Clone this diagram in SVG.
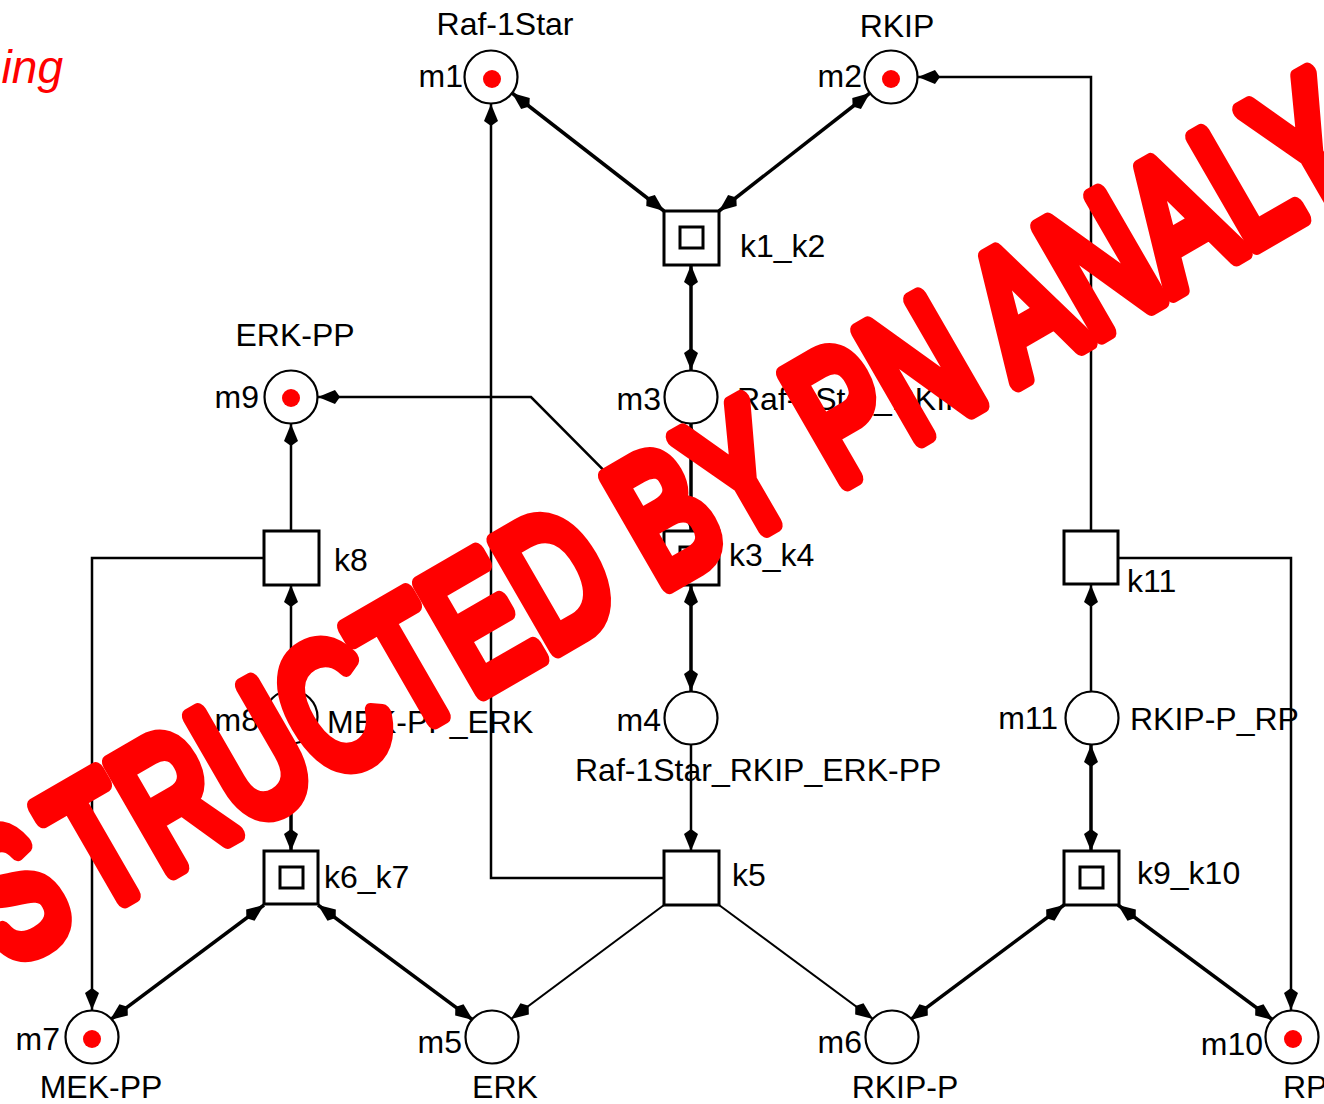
<svg xmlns="http://www.w3.org/2000/svg" width="1324" height="1104" viewBox="0 0 1324 1104">
<style>
.pl{fill:#fff;stroke:#000;stroke-width:2.2}
.tr{fill:#fff;stroke:#000;stroke-width:3}
.in{fill:none;stroke:#000;stroke-width:3}
.tok{fill:#f00}
.lb{font-family:"Liberation Sans",Arial,sans-serif;font-size:32px;fill:#000}
.e{text-anchor:end}
.m{text-anchor:middle}
.a1{fill:none;stroke:#000;stroke-width:2.5;marker-end:url(#ah)}
.a2{fill:none;stroke:#000;stroke-width:3.5;marker-start:url(#ah);marker-end:url(#ah)}
.a0{fill:none;stroke:#000;stroke-width:2;marker-end:url(#ah)}
</style>
<defs>
<marker id="ah" markerUnits="userSpaceOnUse" markerWidth="30" markerHeight="18" viewBox="-27 -9 30 18" refX="0" refY="0" orient="auto-start-reverse">
<path d="M0,0 L-17,-7 L-22,0 L-17,7 Z" fill="#000"/>
</marker>
</defs>
<rect width="1324" height="1104" fill="#fff"/>
<text x="63" y="83" font-family="Liberation Sans,Arial,sans-serif" font-size="46" font-style="italic" fill="#f00" text-anchor="end">ing</text>
<g id="connectors">
<line class="a2" x1="512" y1="93" x2="664" y2="211"/>
<line class="a2" x1="870" y1="93" x2="719" y2="211"/>
<line class="a2" x1="691" y1="265" x2="691" y2="370"/>
<line class="a2" x1="691" y1="424" x2="691" y2="531"/>
<line class="a2" x1="691" y1="585" x2="691" y2="691"/>
<line class="a1" x1="691" y1="745" x2="691" y2="851"/>
<polyline class="a1" points="664,878 491,878 491,104"/>
<line class="a0" x1="664" y1="905" x2="511" y2="1019"/>
<line class="a0" x1="719" y1="905" x2="873" y2="1019"/>
<polyline class="a1" points="664,531 531,397 318,397"/>
<line class="a1" x1="291" y1="531" x2="291" y2="424"/>
<polyline class="a1" points="264,558 92,558 92,1010"/>
<line class="a1" x1="291" y1="691" x2="291" y2="585"/>
<line class="a2" x1="291" y1="745" x2="291" y2="851"/>
<line class="a2" x1="264" y1="905" x2="110" y2="1020"/>
<line class="a2" x1="318" y1="905" x2="473" y2="1020"/>
<line class="a2" x1="1064" y1="905" x2="910" y2="1020"/>
<line class="a2" x1="1118" y1="905" x2="1273" y2="1020"/>
<line class="a2" x1="1091" y1="851" x2="1091" y2="745"/>
<line class="a1" x1="1091" y1="691" x2="1091" y2="585"/>
<polyline class="a1" points="1091,531 1091,77 918,77"/>
<polyline class="a1" points="1118,558 1291,558 1291,1010"/>
</g>
<g id="m1"><circle class="pl" cx="491" cy="77" r="26.5"/><circle class="tok" cx="492" cy="79" r="9"/><text class="lb e" x="463" y="87">m1</text><text class="lb m" x="505" y="35">Raf-1Star</text></g>
<g id="m2"><circle class="pl" cx="891" cy="77" r="26.5"/><circle class="tok" cx="891" cy="79" r="9"/><text class="lb e" x="862" y="87">m2</text><text class="lb m" x="897" y="37">RKIP</text></g>
<g id="m3"><circle class="pl" cx="691" cy="397" r="26.5"/><text class="lb e" x="661" y="410">m3</text><text class="lb" x="737" y="410">Raf-1Star_RKIP</text></g>
<g id="m4"><circle class="pl" cx="691" cy="718" r="26.5"/><text class="lb e" x="661" y="731">m4</text><text class="lb" x="575" y="781">Raf-1Star_RKIP_ERK-PP</text></g>
<g id="m5"><circle class="pl" cx="492" cy="1037" r="26.5"/><text class="lb e" x="462" y="1053">m5</text><text class="lb m" x="505" y="1098">ERK</text></g>
<g id="m6"><circle class="pl" cx="892" cy="1037" r="26.5"/><text class="lb e" x="862" y="1053">m6</text><text class="lb m" x="905" y="1098">RKIP-P</text></g>
<g id="m7"><circle class="pl" cx="92" cy="1037" r="26.5"/><circle class="tok" cx="92" cy="1039" r="9"/><text class="lb e" x="60" y="1050">m7</text><text class="lb m" x="101" y="1098">MEK-PP</text></g>
<g id="m8"><circle class="pl" cx="291" cy="717" r="26.5"/><text class="lb e" x="259" y="731">m8</text><text class="lb" x="327" y="733">MEK-PP_ERK</text></g>
<g id="m9"><circle class="pl" cx="291" cy="397" r="26.5"/><circle class="tok" cx="291" cy="398" r="9"/><text class="lb e" x="259" y="408">m9</text><text class="lb m" x="295" y="346">ERK-PP</text></g>
<g id="m10"><circle class="pl" cx="1292" cy="1037" r="26.5"/><circle class="tok" cx="1293" cy="1039" r="9"/><text class="lb e" x="1263" y="1055">m10</text><text class="lb" x="1283" y="1098">RP</text></g>
<g id="m11"><circle class="pl" cx="1092" cy="718" r="26.5"/><text class="lb e" x="1058" y="729">m11</text><text class="lb" x="1130" y="730">RKIP-P_RP</text></g>
<g id="k1_k2"><rect class="tr" x="664" y="211" width="55" height="54"/><rect class="in" x="680" y="227" width="23" height="21"/><text class="lb" x="740" y="257">k1_k2</text></g>
<g id="k3_k4"><rect class="tr" x="664" y="531" width="55" height="54"/><rect class="in" x="680" y="547" width="23" height="21"/><text class="lb" x="729" y="566">k3_k4</text></g>
<g id="k5"><rect class="tr" x="664" y="851" width="55" height="54"/><text class="lb" x="732" y="886">k5</text></g>
<g id="k6_k7"><rect class="tr" x="264" y="851" width="54" height="53"/><rect class="in" x="280" y="867" width="23" height="21"/><text class="lb" x="324" y="888">k6_k7</text></g>
<g id="k8"><rect class="tr" x="264" y="531" width="55" height="54"/><text class="lb" x="334" y="571">k8</text></g>
<g id="k9_k10"><rect class="tr" x="1064" y="851" width="55" height="54"/><rect class="in" x="1080" y="867" width="23" height="21"/><text class="lb" x="1137" y="884">k9_k10</text></g>
<g id="k11"><rect class="tr" x="1064" y="531" width="54" height="53"/><text class="lb" x="1127" y="592">k11</text></g>
<text transform="translate(6,967) rotate(-30) scale(0.716,1)" font-family="Liberation Sans,Arial,sans-serif" font-size="180" fill="#f00" stroke="#f00" stroke-width="19" stroke-linejoin="round" stroke-linecap="round">S<tspan dx="22">TRUCTED BY PN ANALY</tspan></text>
</svg>
